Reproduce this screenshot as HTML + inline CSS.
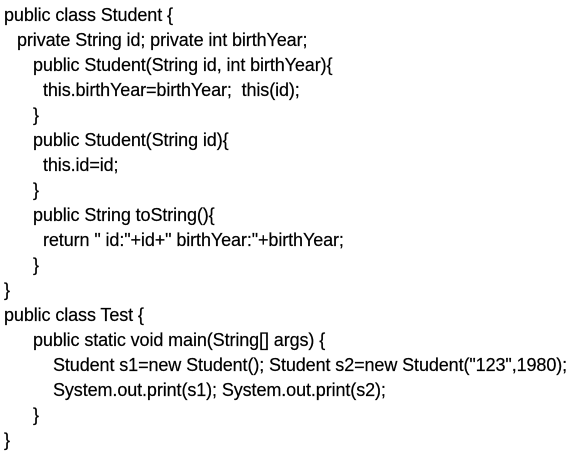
<!DOCTYPE html>
<html><head><meta charset="utf-8"><style>
html,body{margin:0;padding:0;background:#fff;width:573px;height:452px;overflow:hidden}
.l{position:absolute;font-family:"Liberation Sans",Arial,sans-serif;font-size:18px;line-height:26px;color:#000;white-space:pre;letter-spacing:-0.1px;-webkit-text-stroke:0.2px #000}
</style></head><body>
<div class="l" style="left:4px;top:2px">public class Student {</div>
<div class="l" style="left:17px;top:27px">private String id; private int birthYear;</div>
<div class="l" style="left:33px;top:52px">public Student(String id, int birthYear){</div>
<div class="l" style="left:43px;top:77px">this.birthYear=birthYear;  this(id);</div>
<div class="l" style="left:33px;top:102px">}</div>
<div class="l" style="left:33px;top:127px">public Student(String id){</div>
<div class="l" style="left:43px;top:152px">this.id=id;</div>
<div class="l" style="left:33px;top:177px">}</div>
<div class="l" style="left:33px;top:202px">public String toString(){</div>
<div class="l" style="left:43px;top:227px">return " id:"+id+" birthYear:"+birthYear;</div>
<div class="l" style="left:33px;top:252px">}</div>
<div class="l" style="left:4px;top:277px">}</div>
<div class="l" style="left:4px;top:302px">public class Test {</div>
<div class="l" style="left:33px;top:327px">public static void main(String[] args) {</div>
<div class="l" style="left:53px;top:352px">Student s1=new Student(); Student s2=new Student("123",1980);</div>
<div class="l" style="left:53px;top:377px">System.out.print(s1); System.out.print(s2);</div>
<div class="l" style="left:33px;top:402px">}</div>
<div class="l" style="left:4px;top:427px">}</div>
</body></html>
